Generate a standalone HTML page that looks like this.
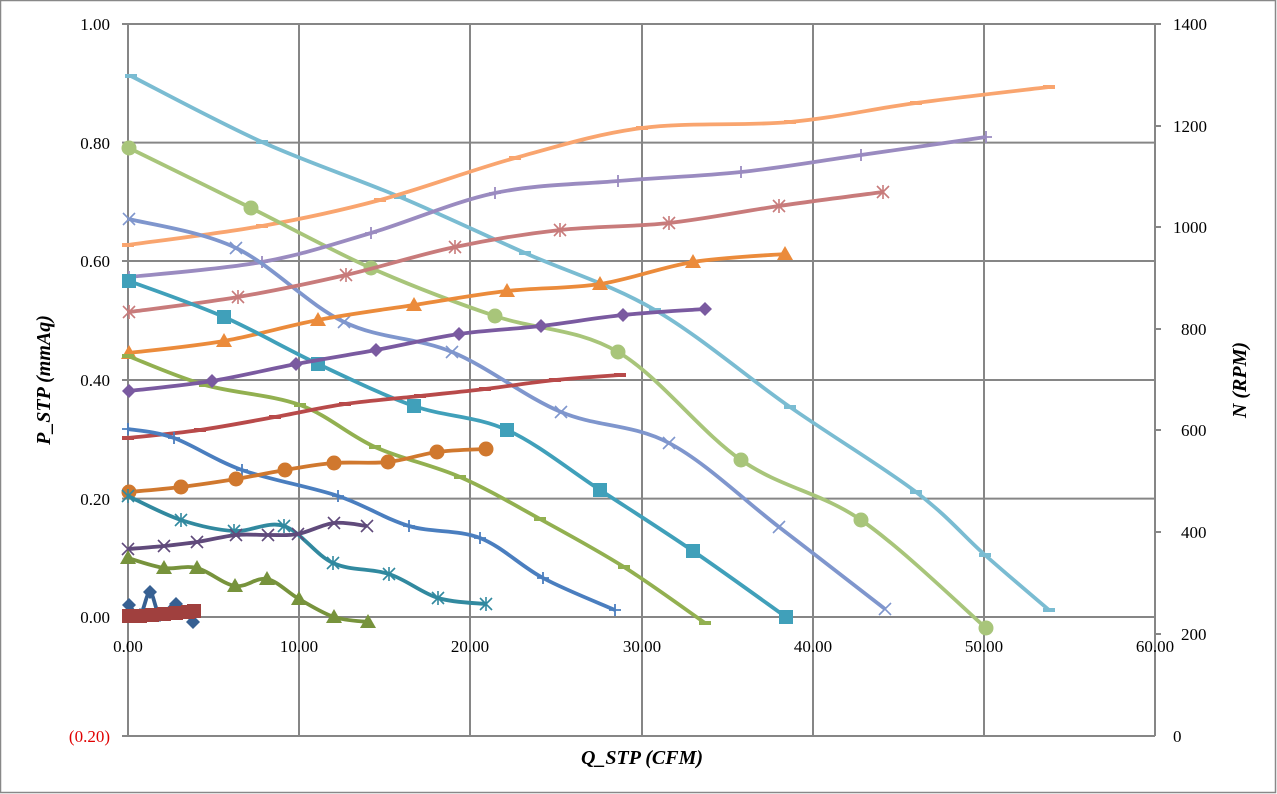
<!DOCTYPE html>
<html><head><meta charset="utf-8"><style>
html,body{margin:0;padding:0;background:#fff}
svg{display:block}
text{font-family:"Liberation Serif",serif}
</style></head><body>
<svg id="s" width="1277" height="794" xmlns="http://www.w3.org/2000/svg">
<rect x="0.5" y="0.5" width="1275" height="792" fill="#fff" stroke="#888" stroke-width="1.5"/>
<g stroke="#868686" stroke-width="2" fill="none">
<line x1="128" y1="24" x2="1155" y2="24"/><line x1="128" y1="142.6" x2="1155" y2="142.6"/>
<line x1="128" y1="261" x2="1155" y2="261"/><line x1="128" y1="380" x2="1155" y2="380"/>
<line x1="128" y1="498.6" x2="1155" y2="498.6"/><line x1="128" y1="617" x2="1155" y2="617"/>
<line x1="128" y1="736" x2="1155" y2="736"/>
<line x1="128" y1="24" x2="128" y2="736"/><line x1="299" y1="24" x2="299" y2="736"/>
<line x1="470" y1="24" x2="470" y2="736"/><line x1="642" y1="24" x2="642" y2="736"/>
<line x1="813" y1="24" x2="813" y2="736"/><line x1="984" y1="24" x2="984" y2="736"/>
<line x1="1155" y1="24" x2="1155" y2="736"/>
<line x1="122" y1="24" x2="128" y2="24"/><line x1="122" y1="142.6" x2="128" y2="142.6"/><line x1="122" y1="261" x2="128" y2="261"/><line x1="122" y1="380" x2="128" y2="380"/><line x1="122" y1="498.6" x2="128" y2="498.6"/><line x1="122" y1="617" x2="128" y2="617"/><line x1="122" y1="736" x2="128" y2="736"/>
<line x1="1155" y1="126" x2="1161" y2="126"/><line x1="1155" y1="227" x2="1161" y2="227"/><line x1="1155" y1="329" x2="1161" y2="329"/><line x1="1155" y1="430" x2="1161" y2="430"/><line x1="1155" y1="532" x2="1161" y2="532"/><line x1="1155" y1="634" x2="1161" y2="634"/><line x1="1155" y1="24" x2="1161" y2="24"/>
</g>
<g font-size="17" text-anchor="end" fill="#000">
<text x="110" y="30">1.00</text><text x="110" y="149">0.80</text><text x="110" y="267">0.60</text><text x="110" y="386">0.40</text><text x="110" y="505">0.20</text><text x="110" y="623">0.00</text><text x="110" y="742" fill="#e00000">(0.20)</text>
</g>
<g font-size="17" text-anchor="start" fill="#000">
<text x="1173" y="30">1400</text><text x="1173" y="132">1200</text><text x="1173" y="233">1000</text><text x="1181" y="335">800</text><text x="1181" y="436">600</text><text x="1181" y="538">400</text><text x="1181" y="640">200</text><text x="1173" y="742">0</text>
</g>
<g font-size="17" text-anchor="middle" fill="#000">
<text x="128" y="652">0.00</text><text x="299" y="652">10.00</text><text x="470" y="652">20.00</text><text x="642" y="652">30.00</text><text x="813" y="652">40.00</text><text x="984" y="652">50.00</text><text x="1155" y="652">60.00</text>
</g>
<text x="642" y="764" font-size="20" font-weight="bold" font-style="italic" text-anchor="middle">Q_STP (CFM)</text>
<text transform="translate(50,380) rotate(-90)" font-size="20" font-weight="bold" font-style="italic" text-anchor="middle">P_STP (mmAq)</text>
<text transform="translate(1246,380) rotate(-90)" font-size="20" font-weight="bold" font-style="italic" text-anchor="middle">N (RPM)</text>
<g id="series"></g>
</svg>
<script>
var S=[
["#7abcd2","dash",[[131,76],[262,142],[400,197],[525,253],[655,310],[790,407],[916,492],[985,555],[1049,610]]],
["#f9a56f","dash",[[128,245],[262,226],[380,200],[515,158],[642,128],[790,122],[916,103],[1049,87]]],
["#a8c57a","circle",[[129,148],[251,208],[371,268],[495,316],[618,352],[741,460],[861,520],[986,628]]],
["#9a8bc0","plus",[[129,277],[262,262],[371,233],[495,193],[618,181],[741,172],[861,155],[986,137]]],
["#7f96cd","x",[[129,219],[236,248],[344,322],[452,352],[561,412],[669,443],[779,527],[885,609]]],
["#c87b7b","star",[[129,312],[238,297],[346,275],[455,247],[560,230],[669,223],[779,206],[883,192]]],
["#eb8b3b","tri",[[129,353],[224,341],[318,320],[414,305],[507,291],[600,284],[693,262],[785,254]]],
["#40a0ba","square",[[129,281],[224,317],[318,364],[414,406],[507,430],[600,490],[693,551],[786,617]]],
["#92b050","dash",[[128,356],[205,385],[300,405],[375,447],[460,477],[540,519],[624,567],[705,623]]],
["#7a5aa0","diamond",[[129,391],[212,381],[296,364],[376,350],[459,334],[541,326],[623,315],[705,309]]],
["#b84a4a","dash",[[128,438],[200,430],[275,417],[345,404],[420,396],[485,389],[555,380],[620,375]]],
["#4a7ebf","plus",[[128,429],[174,438],[242,470],[338,496],[409,526],[480,538],[543,578],[615,610]]],
["#d0782e","circle",[[129,492],[181,487],[236,479],[285,470],[334,463],[388,462],[437,452],[486,449]]],
["#31899f","star",[[128,496],[181,520],[234,531],[284,526],[333,563],[389,574],[438,598],[486,604]]],
["#604a7b","x",[[128,549],[164,546],[197,542],[236,535],[268,535],[298,534],[334,523],[367,526]]],
["#77933c","tri",[[128,558],[164,568],[197,568],[235,586],[267,579],[299,599],[334,617],[368,622]]],
["#376092","diamond",[[129,605],[140,615],[150,592],[160,615],[176,604],[193,622]]],
["#a0403e","square",[[129,616],[140,616],[152,615],[164,614],[176,613],[188,612],[194,611]]]
];
function path(p){var d="M"+p[0][0]+","+p[0][1];for(var i=0;i<p.length-1;i++){var a=p[i>0?i-1:0],b=p[i],c=p[i+1],e=p[i+2<p.length?i+2:i+1];
var c1=[b[0]+(c[0]-a[0])/6,b[1]+(c[1]-a[1])/6],c2=[c[0]-(e[0]-b[0])/6,c[1]-(e[1]-b[1])/6];
d+=" C"+c1[0].toFixed(1)+","+c1[1].toFixed(1)+" "+c2[0].toFixed(1)+","+c2[1].toFixed(1)+" "+c[0]+","+c[1];}return d;}
var h="";
S.forEach(function(s){var c=s[0];h+='<path d="'+path(s[2])+'" fill="none" stroke="'+c+'" stroke-width="3.8" stroke-linejoin="round"/>';
s[2].forEach(function(q){var x=q[0],y=q[1];switch(s[1]){
case"dash":h+='<line x1="'+(x-6)+'" y1="'+y+'" x2="'+(x+6)+'" y2="'+y+'" stroke="'+c+'" stroke-width="4"/>';break;
case"circle":h+='<circle cx="'+x+'" cy="'+y+'" r="7.5" fill="'+c+'"/>';break;
case"square":h+='<rect x="'+(x-7)+'" y="'+(y-7)+'" width="14" height="14" fill="'+c+'"/>';break;
case"tri":h+='<polygon points="'+x+','+(y-8)+' '+(x-8)+','+(y+6)+' '+(x+8)+','+(y+6)+'" fill="'+c+'"/>';break;
case"diamond":h+='<polygon points="'+x+','+(y-7)+' '+(x+7)+','+y+' '+x+','+(y+7)+' '+(x-7)+','+y+'" fill="'+c+'"/>';break;
case"plus":h+='<path d="M'+(x-6)+','+y+'h12M'+x+','+(y-6)+'v12" stroke="'+c+'" stroke-width="1.8"/>';break;
case"x":h+='<path d="M'+(x-6)+','+(y-6)+'l12,12M'+(x-6)+','+(y+6)+'l12,-12" stroke="'+c+'" stroke-width="1.6"/>';break;
case"star":h+='<path d="M'+(x-6)+','+(y-6)+'l12,12M'+(x-6)+','+(y+6)+'l12,-12M'+x+','+(y-7)+'v14" stroke="'+c+'" stroke-width="1.6"/>';break;}});});
document.getElementById("series").innerHTML=h;
</script>
</body></html>
